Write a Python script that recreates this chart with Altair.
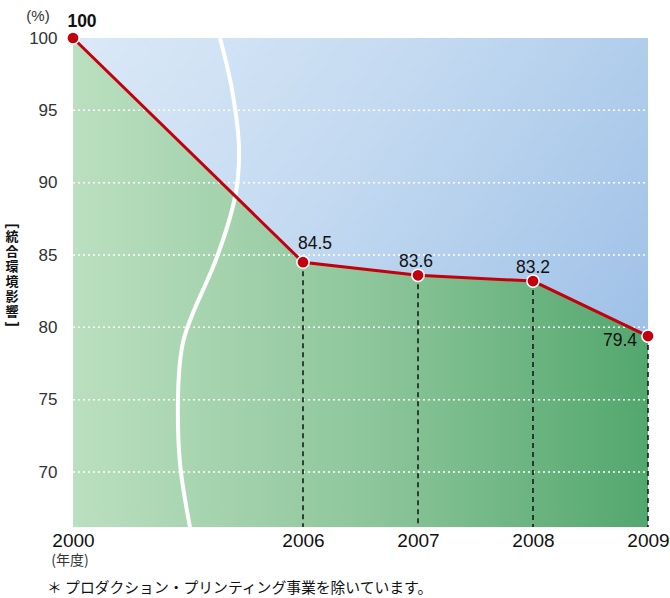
import altair as alt
import pandas as pd

# Data
years = ["2000", "2006", "2007", "2008", "2009"]
pos = [0, 2, 3, 4, 5]  # axis position (break between 2000 and 2006)
values = [100, 84.5, 83.6, 83.2, 79.4]
labels = ["100", "84.5", "83.6", "83.2", "79.4"]
label_dx = [9, 12, -2, 0, -28]
label_dy = [-16, -18, -13, -13, 5]
y_ticks = [70, 75, 80, 85, 90, 95, 100]
grid_vals = [70, 75, 80, 85, 90, 95]
y_title_chars = ["統", "合", "環", "境", "影", "響"]

# decorative break curve (axis units)
break_x = [1.278, 1.383, 1.443, 1.409, 1.252, 1.043, 0.948, 0.913, 0.930, 1.017]
break_y = [100, 96.41, 92.47, 89.01, 84.86, 80.99, 78.64, 75.19, 70.62, 66.2]

YMIN, YMAX = 66.2, 100
W, H = 575, 489

df = pd.DataFrame({"pos": pos, "year": years, "value": values, "label": labels})
df_drop = df[df["pos"] > 0]
df_grid = pd.DataFrame({"y": grid_vals})
df_break = pd.DataFrame({"x": break_x, "y": break_y, "o": list(range(len(break_x)))})
df_bg = pd.DataFrame({"x": [0], "x2": [5], "y": [YMIN], "y2": [YMAX]})

xs = alt.Scale(domain=[0, 5], nice=False)
ys = alt.Scale(domain=[YMIN, YMAX], nice=False, zero=False)

label_expr = "datum.value == 0 ? '2000' : datum.value == 2 ? '2006' : datum.value == 3 ? '2007' : datum.value == 4 ? '2008' : '2009'"

xaxis = alt.Axis(values=[0, 2, 3, 4, 5], labelExpr=label_expr, title=None, domain=False,
                 ticks=False, grid=False, labelFontSize=19, labelColor="#111",
                 labelFont="Liberation Sans", labelPadding=4, labelFlush=False)
yaxis = alt.Axis(values=y_ticks, title=None, domain=False, ticks=False, grid=False,
                 labelFontSize=17, labelColor="#333", labelFont="Liberation Sans",
                 labelPadding=16)

bg = alt.Chart(df_bg).mark_rect(
    color=alt.Gradient(gradient="linear",
                       stops=[alt.GradientStop(color="#dbe9f7", offset=0),
                              alt.GradientStop(color="#c4daf1", offset=0.45),
                              alt.GradientStop(color="#9fc1e7", offset=1)],
                       x1=0, y1=0, x2=1, y2=0.6)
).encode(
    x=alt.X("x:Q", scale=xs, axis=xaxis), x2="x2:Q",
    y=alt.Y("y:Q", scale=ys, axis=yaxis), y2="y2:Q"
)

area = alt.Chart(df).mark_area(
    color=alt.Gradient(gradient="linear",
                       stops=[alt.GradientStop(color="#bbdfc0", offset=0),
                              alt.GradientStop(color="#8fc79c", offset=0.5),
                              alt.GradientStop(color="#53a76e", offset=1)],
                       x1=0, y1=0, x2=1, y2=0)
).encode(
    x=alt.X("pos:Q", scale=xs), y=alt.Y("value:Q", scale=ys), y2=alt.datum(YMIN)
)

grid = alt.Chart(df_grid).mark_rule(color="white", strokeDash=[2, 3], strokeWidth=1.5).encode(
    y=alt.Y("y:Q", scale=ys), x=alt.value(0), x2=alt.value(W)
)

brk = alt.Chart(df_break).mark_line(color="white", strokeWidth=4, interpolate="cardinal", clip=True).encode(
    x=alt.X("x:Q", scale=xs), y=alt.Y("y:Q", scale=ys), order="o:Q"
)

drops = alt.Chart(df_drop).mark_rule(color="#111", strokeDash=[5, 4], strokeWidth=1.5).encode(
    x=alt.X("pos:Q", scale=xs), y=alt.Y("value:Q", scale=ys), y2=alt.datum(YMIN)
)

line = alt.Chart(df).mark_line(color="#c3000d", strokeWidth=3).encode(
    x=alt.X("pos:Q", scale=xs), y=alt.Y("value:Q", scale=ys)
)

pts = alt.Chart(df).mark_point(filled=True, fill="#c3000d", stroke="white", strokeWidth=1.5,
                               size=150, opacity=1).encode(
    x=alt.X("pos:Q", scale=xs), y=alt.Y("value:Q", scale=ys)
)

lab_layers = []
for i in range(len(pos)):
    lab_layers.append(
        alt.Chart(df.iloc[[i]]).mark_text(
            fontSize=17.5, font="Liberation Sans", color="#111",
            fontWeight=("bold" if i == 0 else "normal"),
            dx=label_dx[i], dy=label_dy[i]
        ).encode(x=alt.X("pos:Q", scale=xs), y=alt.Y("value:Q", scale=ys), text="label:N")
    )

pct = alt.Chart(df.head(1)).mark_text(fontSize=15, font="Liberation Sans", color="#333").encode(
    x=alt.value(-35), y=alt.value(-22), text=alt.value("(%)"))

ytitle = alt.Chart(df.head(1)).mark_text(
    fontSize=13, fontWeight="bold", font="Noto Sans CJK JP", color="#111",
    lineHeight=15, baseline="top"
).encode(x=alt.value(-61), y=alt.value(193), text=alt.value(y_title_chars))

br_top = alt.Chart(df.head(1)).mark_text(
    fontSize=14, fontWeight="bold", font="Liberation Sans", color="#111", angle=90, baseline="middle"
).encode(x=alt.value(-61), y=alt.value(188), text=alt.value("["))

br_bot = alt.Chart(df.head(1)).mark_text(
    fontSize=14, fontWeight="bold", font="Liberation Sans", color="#111", angle=90, baseline="middle"
).encode(x=alt.value(-61), y=alt.value(286), text=alt.value("]"))

nendo = alt.Chart(df.head(1)).mark_text(fontSize=14, font="Noto Sans CJK JP", color="#333").encode(
    x=alt.value(-3), y=alt.value(523), text=alt.value("(年度)"))

note = alt.Chart(df.head(1)).mark_text(fontSize=14.8, font="Noto Sans CJK JP", color="#111", align="left").encode(
    x=alt.value(-26), y=alt.value(551), text=alt.value("＊ プロダクション・プリンティング事業を除いています。"))

chart = alt.layer(bg, area, grid, brk, drops, line, pts, *lab_layers,
                  pct, ytitle, br_top, br_bot, nendo, note).properties(
    width=W, height=H,
    autosize=alt.AutoSizeParams(type="none"),
    padding={"left": 73, "top": 38, "right": 22, "bottom": 71},
    background="white"
).configure_view(stroke=None)

chart.save("out.html", embed_options={"renderer": "svg", "actions": False})
